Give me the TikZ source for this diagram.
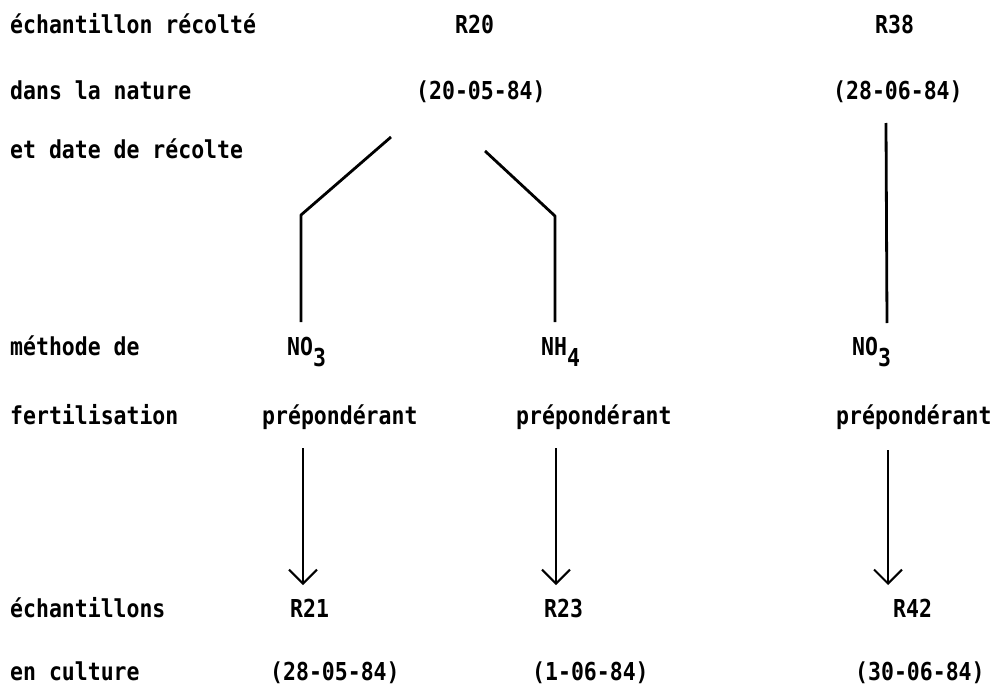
\documentclass[tikz,border=0pt]{standalone}
\usepackage{fontspec}
\newfontfamily\typew[FakeStretch=0.87]{DejaVu Sans Mono}
\usetikzlibrary{positioning,arrows.meta}
\newcommand{\low}[1]{\raisebox{-0.45em}{#1}}

\begin{document}
\begin{tikzpicture}[x=1pt,y=-1pt,
  every node/.style={font=\typew\bfseries\fontsize{24.7}{28}\selectfont, inner sep=0pt, anchor=base west}]
  \tikzstyle{branch}=[line width=2.8pt, line join=round]
  \tikzstyle{down}=[line width=2pt, -{Straight Barb[length=14pt,width=28pt,line width=2pt]}]
  \useasboundingbox (0,0) rectangle (997,688);
  % row titles
  \node (t1) at (10,33) {échantillon récolté};
  \node (t2) at (10,99) {dans la nature};
  \node (t3) at (10,158) {et date de récolte};
  \node (t4) at (10,355) {méthode de};
  \node (t5) at (10,424) {fertilisation};
  \node (t6) at (10,617) {échantillons};
  \node (t7) at (10,680) {en culture};
  % samples from the field
  \node (r20) at (455,33) {R20};
  \node (d20) at (416,99) {(20-05-84)};
  \node (r38) at (875,33) {R38};
  \node (d38) at (833,99) {(28-06-84)};
  % fertilisation
  \node (fa) at (287,355) {NO\low{3}};
  \node (fb) at (541,355) {NH\low{4}};
  \node (fc) at (852,355) {NO\low{3}};
  \node (pa) at (262,424) {prépondérant};
  \node (pb) at (516,424) {prépondérant};
  \node (pc) at (836,424) {prépondérant};
  % samples in culture
  \node (r21) at (290,617) {R21};
  \node (r23) at (544,617) {R23};
  \node (r42) at (893,617) {R42};
  \node (d21) at (270,680) {(28-05-84)};
  \node (d23) at (532,680) {(1-06-84)};
  \node (d42) at (855,680) {(30-06-84)};
  % branch points
  \coordinate (sa) at (391,137);
  \coordinate (ka) at (301,215);
  \coordinate (ea) at (301,322);
  \coordinate (sb) at (485,151);
  \coordinate (kb) at (555,216);
  \coordinate (eb) at (555,322);
  \coordinate (sc) at (886,123);
  \coordinate (ec) at (887,323);
  \draw[branch] (sa) -- (ka) -- (ea);
  \draw[branch] (sb) -- (kb) -- (eb);
  \draw[branch] (sc) -- (ec);
  % arrows
  \coordinate (ua) at (303,448);
  \coordinate (va) at (303,585);
  \coordinate (ub) at (556,448);
  \coordinate (vb) at (556,585);
  \coordinate (uc) at (888,450);
  \coordinate (vc) at (888,585);
  \draw[down] (ua) -- (va);
  \draw[down] (ub) -- (vb);
  \draw[down] (uc) -- (vc);
\end{tikzpicture}
\end{document}
